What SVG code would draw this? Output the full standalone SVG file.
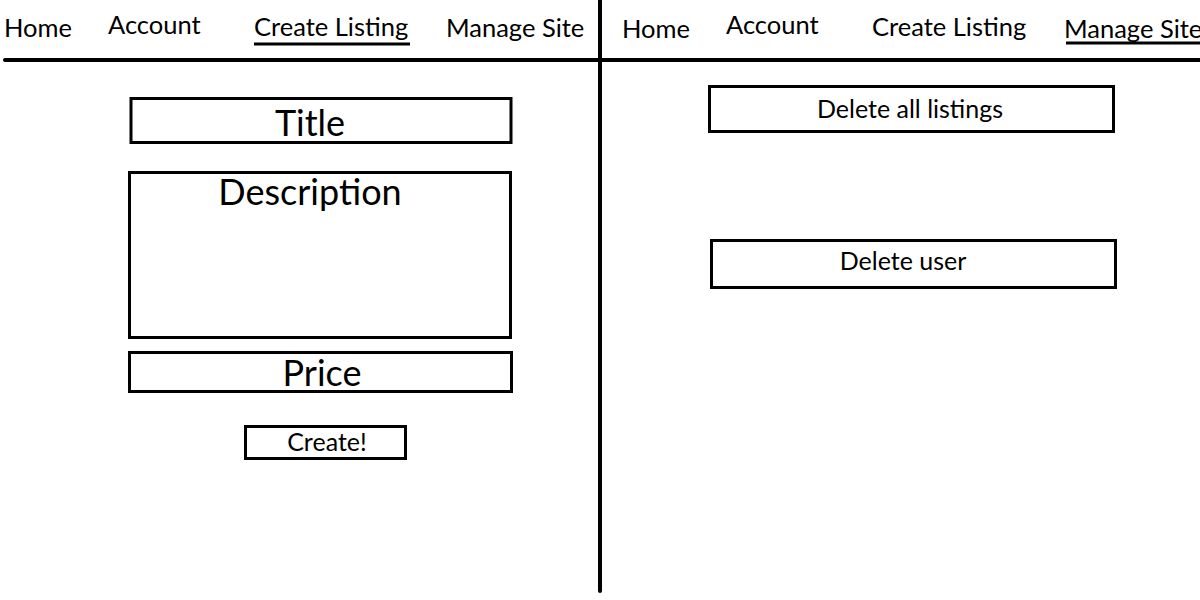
<svg xmlns="http://www.w3.org/2000/svg" width="1200" height="600" viewBox="0 0 1200 600">
<style>
.nav{font-family:Lato,"Liberation Sans",sans-serif;font-size:25.5px;fill:#000}
.sm{font-family:Lato,"Liberation Sans",sans-serif;font-size:25px;fill:#000;text-anchor:middle}
.big{font-family:Lato,"Liberation Sans",sans-serif;font-size:36px;fill:#000;text-anchor:middle}
.box{fill:#fff;stroke:#000;stroke-width:3}
.rule{stroke:#000;stroke-width:4;stroke-linecap:round;fill:none}
.ul{stroke:#000;stroke-width:3;fill:none}
</style>
<rect width="1200" height="600" fill="#fff"/>
<g id="dividers">
<line class="rule" x1="5" y1="60" x2="1200" y2="60"/>
<line class="rule" x1="600" y1="0" x2="600" y2="591"/>
</g>
<g id="nav-left">
<text class="nav" x="4" y="37">Home</text>
<text class="nav" x="108" y="34">Account</text>
<text class="nav" x="254" y="36">Create Listing</text>
<line class="ul" x1="254" y1="44" x2="410" y2="44"/>
<text class="nav" x="446" y="37">Manage Site</text>
</g>
<g id="nav-right">
<text class="nav" x="622" y="38">Home</text>
<text class="nav" x="726" y="34">Account</text>
<text class="nav" x="872" y="36">Create Listing</text>
<text class="nav" x="1064" y="38">Manage Site</text>
<line class="ul" x1="1066" y1="43" x2="1200" y2="43"/>
</g>
<g id="title">
<rect class="box" x="131" y="98.5" width="380" height="44"/>
<text class="big" x="310" y="136">Title</text>
</g>
<g id="description">
<rect class="box" x="129.5" y="172.5" width="381" height="165"/>
<text class="big" x="310" y="205">Description</text>
</g>
<g id="price">
<rect class="box" x="129.5" y="352.5" width="382" height="39"/>
<text class="big" x="322" y="386">Price</text>
</g>
<g id="create">
<rect class="box" x="245.5" y="426.5" width="160" height="32"/>
<text class="sm" x="327" y="451">Create!</text>
</g>
<g id="delete-all">
<rect class="box" x="709.5" y="86.5" width="404" height="45"/>
<text class="sm" x="910" y="118">Delete all listings</text>
</g>
<g id="delete-user">
<rect class="box" x="711.5" y="240.5" width="404" height="47"/>
<text class="sm" x="903" y="270">Delete user</text>
</g>
</svg>
